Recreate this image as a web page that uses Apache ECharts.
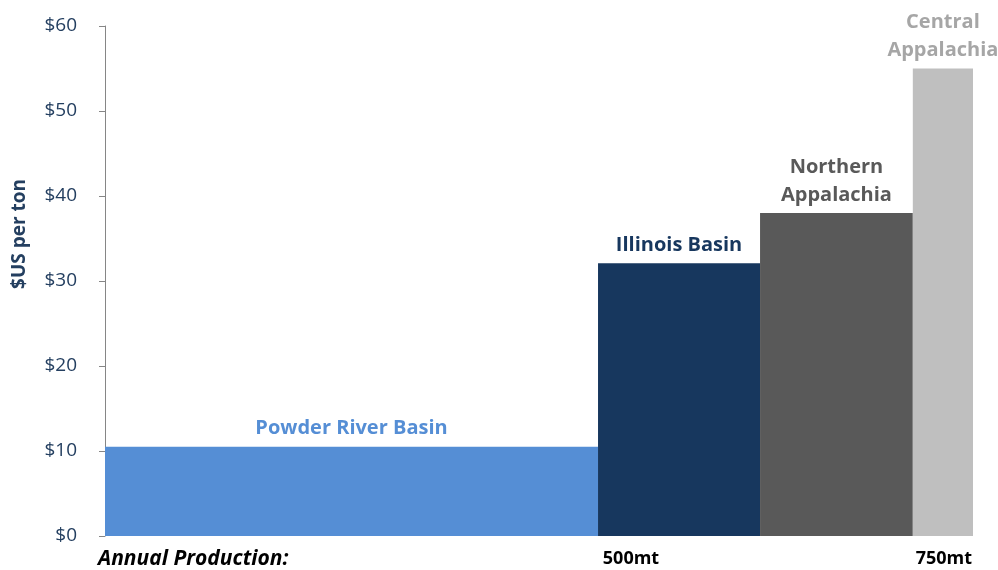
<!DOCTYPE html>
<html>
<head>
<meta charset="utf-8">
<script src="https://cdn.jsdelivr.net/npm/echarts@6/dist/echarts.min.js"></script>
<style>
  html, body { margin: 0; padding: 0; background: #fff; }
  #chart { width: 998px; height: 570px; }
</style>
</head>
<body>
<div id="chart"></div>
<script>
// basin names, annual production (mt) and cash cost ($US per ton)
var basins = ['Powder River Basin', 'Illinois Basin', 'Northern\nAppalachia', 'Central\nAppalachia'];
var production = [426, 140, 132, 52];
var cost = [10.5, 32.1, 38, 55];
var barColors = ['#558ED5', '#17375E', '#595959', '#BFBFBF'];
var labelColors = ['#558ED5', '#17375E', '#595959', '#A6A6A6'];
var xLabels = ['Annual Production:', '500mt', '750mt'];

var FONT = '"Open Sans", "Noto Sans", sans-serif';

// cumulative start / end of each basin along the production axis
var items = [];
var acc = 0;
production.forEach(function (p, i) {
    items.push({ value: [acc, acc + p, cost[i], i], name: basins[i] });
    acc += p;
});

function renderItem(params, api) {
    var start = api.coord([api.value(0), api.value(2)]);
    var end = api.coord([api.value(1), 0]);
    var idx = api.value(3);
    return {
        type: 'group',
        children: [{
            type: 'rect',
            shape: { x: start[0], y: start[1], width: end[0] - start[0], height: end[1] - start[1] },
            style: { fill: barColors[idx] }
        }, {
            type: 'text',
            x: (start[0] + end[0]) / 2,
            y: start[1] - 4,
            style: {
                text: basins[idx],
                fill: labelColors[idx],
                font: 'bold 20px ' + FONT,
                align: 'center',
                verticalAlign: 'bottom',
                lineHeight: 28
            }
        }]
    };
}

var chart = echarts.init(document.getElementById('chart'));
var option = {
    animation: false,
    grid: { left: 105, right: 25, top: 26, bottom: 34 },
    xAxis: {
        type: 'value',
        min: 0,
        max: acc,
        axisLine: { show: false },
        axisTick: { show: false },
        axisLabel: { show: false },
        splitLine: { show: false }
    },
    yAxis: {
        type: 'value',
        min: 0,
        max: 60,
        interval: 10,
        axisLine: { show: true, lineStyle: { color: '#868686', width: 1 } },
        axisTick: { show: true, length: 6, lineStyle: { color: '#868686' } },
        splitLine: { show: false },
        axisLabel: {
            margin: 28,
            color: '#243F60',
            fontSize: 19,
            fontFamily: FONT,
            formatter: function (v) { return '$' + v; }
        }
    },
    graphic: [{
        type: 'text',
        x: 20,
        y: 234,
        rotation: Math.PI / 2,
        style: {
            text: '$US per ton',
            fill: '#243F60',
            font: 'bold 19px ' + FONT,
            align: 'center',
            verticalAlign: 'middle'
        }
    }, {
        type: 'text',
        x: 98,
        y: 559,
        style: { text: xLabels[0], fill: '#000', font: 'italic bold 21px ' + FONT, verticalAlign: 'middle' }
    }, {
        type: 'text',
        x: 631,
        y: 559,
        style: { text: xLabels[1], fill: '#000', font: 'bold 18px ' + FONT, align: 'center', verticalAlign: 'middle' }
    }, {
        type: 'text',
        x: 972,
        y: 559,
        style: { text: xLabels[2], fill: '#000', font: 'bold 18px ' + FONT, align: 'right', verticalAlign: 'middle' }
    }],
    series: [{
        type: 'custom',
        renderItem: renderItem,
        encode: { x: [0, 1], y: 2 },
        data: items
    }]
};
chart.setOption(option);
</script>
</body>
</html>
